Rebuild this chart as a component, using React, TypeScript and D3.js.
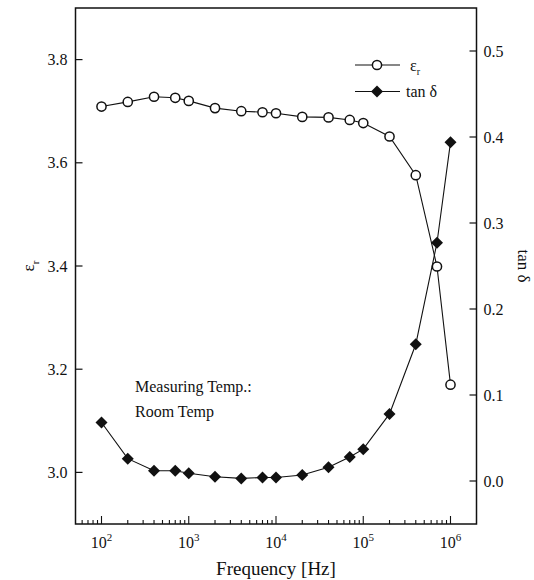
import React from 'react';
import * as d3 from 'd3';

const frequencies = [100, 200, 400, 700, 1000, 2000, 4000, 7000, 10000, 20000, 40000, 70000, 100000, 200000, 400000, 700000, 1000000];
const epsilonR = [3.709, 3.718, 3.728, 3.726, 3.72, 3.706, 3.7, 3.698, 3.696, 3.689, 3.688, 3.683, 3.677, 3.651, 3.576, 3.399, 3.17];
const tanDelta = [0.068, 0.026, 0.012, 0.012, 0.009, 0.005, 0.003, 0.004, 0.004, 0.007, 0.016, 0.028, 0.037, 0.078, 0.159, 0.277, 0.394];
const leftTicks = [3.0, 3.2, 3.4, 3.6, 3.8];
const rightTicks = [0.0, 0.1, 0.2, 0.3, 0.4, 0.5];
const xMajorExponents = [2, 3, 4, 5, 6];

const W = 534;
const H = 580;
const L = 75.5, R = 476.5, T = 8, B = 524;
const FONT = "'Liberation Serif', 'DejaVu Serif', serif";

export default function App() {
  const x = d3.scaleLog().domain([Math.pow(10, 1.702), Math.pow(10, 6.298)]).range([L, R]);
  const yL = d3.scaleLinear().domain([2.9, 3.9]).range([B, T]);
  const yR = d3.scaleLinear().domain([-0.05, 0.55]).range([B, T]);

  const epsPts = frequencies.map((f, i) => [x(f), yL(epsilonR[i])] as [number, number]);
  const tanPts = frequencies.map((f, i) => [x(f), yR(tanDelta[i])] as [number, number]);
  const line = d3.line();

  const allTicks = x.ticks().filter((t) => t >= x.domain()[0] && t <= x.domain()[1]);
  const isMajor = (t: number) => Math.abs(Math.log10(t) - Math.round(Math.log10(t))) < 1e-9;

  const diamond = (cx: number, cy: number, s: number) =>
    `M${cx},${cy - s}L${cx + s},${cy}L${cx},${cy + s}L${cx - s},${cy}Z`;

  return (
    <svg width={W} height={H} style={{ position: 'absolute', left: 0, top: 0, background: '#fff', fontFamily: FONT }}>
      <rect x={0} y={0} width={W} height={H} fill="#fff" />
      {/* frame */}
      <rect x={L} y={T} width={R - L} height={B - T} fill="none" stroke="#111" strokeWidth={1.5} />

      {/* left axis ticks */}
      {leftTicks.map((t) => (
        <g key={'l' + t}>
          <line x1={L} x2={L + 7} y1={yL(t)} y2={yL(t)} stroke="#111" strokeWidth={1.2} />
          <text x={L - 8} y={yL(t)} dy="0.35em" textAnchor="end" fontSize={16} fill="#111">
            {t.toFixed(1)}
          </text>
        </g>
      ))}

      {/* right axis ticks */}
      {rightTicks.map((t) => (
        <g key={'r' + t}>
          <line x1={R - 7} x2={R} y1={yR(t)} y2={yR(t)} stroke="#111" strokeWidth={1.2} />
          <text x={R + 7} y={yR(t)} dy="0.35em" textAnchor="start" fontSize={16} fill="#111">
            {t.toFixed(1)}
          </text>
        </g>
      ))}

      {/* x axis ticks */}
      {allTicks.map((t, i) => (
        <line key={'x' + i} x1={x(t)} x2={x(t)} y1={B} y2={B - (isMajor(t) ? 8 : 4)} stroke="#111" strokeWidth={1.1} />
      ))}
      {xMajorExponents.map((e) => (
        <text key={'xl' + e} x={x(Math.pow(10, e))} y={548} textAnchor="middle" fontSize={16} fill="#111">
          10<tspan dy={-7} fontSize={11}>{e}</tspan>
        </text>
      ))}
      <text x={(L + R) / 2} y={575} textAnchor="middle" fontSize={19} fill="#111">
        Frequency [Hz]
      </text>

      {/* axis titles */}
      <text transform={`translate(34,${(T + B) / 2}) rotate(-90)`} textAnchor="middle" fontSize={17} fill="#111">
        ε<tspan dy={5} fontSize={11}>r</tspan>
      </text>
      <text transform={`translate(518,266) rotate(90)`} textAnchor="middle" fontSize={17} fill="#111">
        tan δ
      </text>

      {/* lines */}
      <path d={line(epsPts) || ''} fill="none" stroke="#111" strokeWidth={1.1} />
      <path d={line(tanPts) || ''} fill="none" stroke="#111" strokeWidth={1.1} />

      {/* markers */}
      {epsPts.map(([cx, cy], i) => (
        <circle key={'e' + i} cx={cx} cy={cy} r={4.6} fill="#fff" stroke="#111" strokeWidth={1.5} />
      ))}
      {tanPts.map(([cx, cy], i) => (
        <path key={'t' + i} d={diamond(cx, cy, 6)} fill="#111" />
      ))}

      {/* legend */}
      <line x1={355} x2={400} y1={65} y2={65} stroke="#111" strokeWidth={1.1} />
      <circle cx={377} cy={65} r={4.6} fill="#fff" stroke="#111" strokeWidth={1.5} />
      <text x={410} y={65} dy="0.35em" fontSize={16} fill="#111">
        ε<tspan dy={4} fontSize={10}>r</tspan>
      </text>
      <line x1={355} x2={400} y1={91.5} y2={91.5} stroke="#111" strokeWidth={1.1} />
      <path d={diamond(377, 91.5, 6)} fill="#111" />
      <text x={406} y={91.5} dy="0.35em" fontSize={16} fill="#111">
        tan δ
      </text>

      {/* annotation */}
      <text x={135} y={392} fontSize={16} fill="#111">Measuring Temp.:</text>
      <text x={135} y={417} fontSize={16} fill="#111">Room Temp</text>
    </svg>
  );
}
